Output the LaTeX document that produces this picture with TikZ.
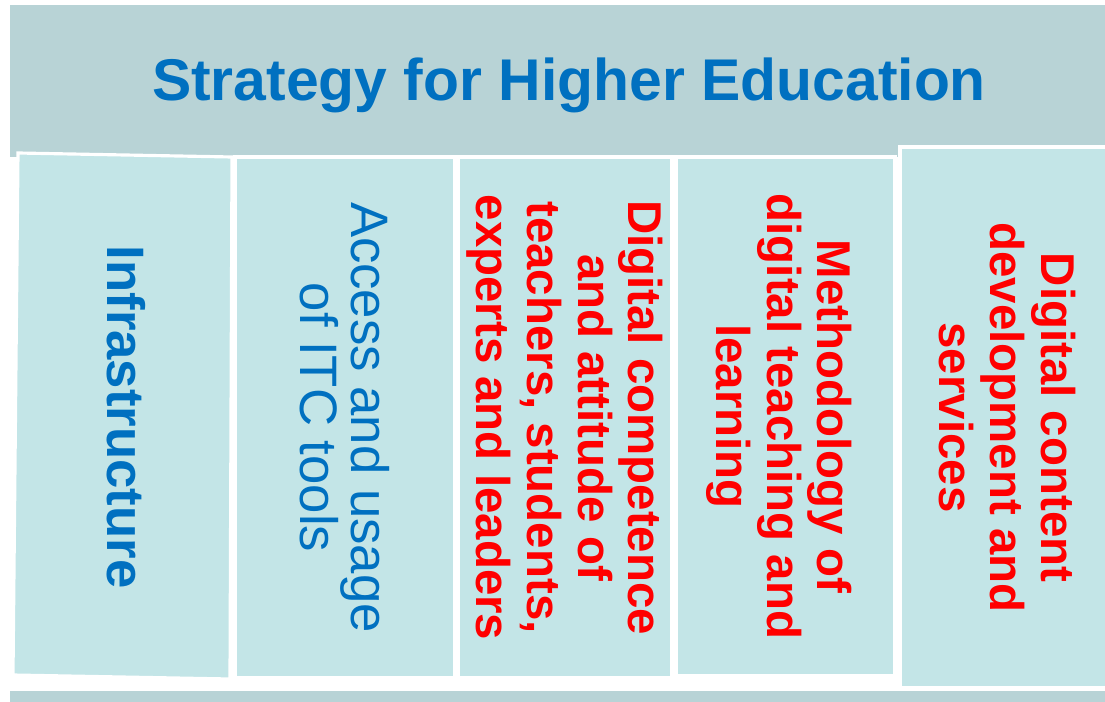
\documentclass[tikz,border=0pt]{standalone}
\usepackage{fontspec}
\setmainfont{Liberation Sans}
\definecolor{bandteal}{HTML}{B8D3D6}
\definecolor{colteal}{HTML}{C3E5E7}
\definecolor{titleblue}{HTML}{0070C0}

\begin{document}
\begin{tikzpicture}[x=0.02cm, y=-0.02cm,
    band node/.style={fill=bandteal, inner sep=0pt},
    col node/.style={draw=white, line width=1.8pt, fill=colteal, inner sep=0pt, minimum height=10.42cm},
    side node/.style={rotate=-90, align=center, inner sep=0pt},
    red node/.style={side node, text=red, font=\fontsize{27}{28.8}\selectfont\bfseries},
    blue node/.style={side node, text=titleblue, font=\fontsize{30}{28.8}\selectfont}]
\useasboundingbox (0,0) rectangle (1105,702);
\node[band node, minimum width=21.9cm, minimum height=3.04cm] (banner) at (557.5,81) {};
\node[band node, minimum width=21.9cm, minimum height=0.24cm] (bottom) at (557.5,697) {};
\node[text=titleblue, font=\fontsize{33.5}{40}\selectfont\bfseries] (title) at (569,85) {Strategy for Higher Education};
% columns
\filldraw[fill=colteal, draw=white, line width=1.8pt] (18,153) -- (232,157) -- (230,679) -- (13,675) -- cycle;
\node[col node, minimum width=4.4cm] (c2) at (345,417.5) {};
\node[col node, minimum width=4.28cm] (c3) at (565,417.5) {};
\node[col node, minimum width=4.38cm, minimum height=10.38cm] (c4) at (785.5,416.5) {};
\node[col node, minimum width=4.3cm, minimum height=10.82cm] (c5) at (1007.5,417.5) {};
% labels
\node[blue node, font=\fontsize{30}{28.8}\selectfont\bfseries] (infra) at (126,417) {Infrastructure};
\node[blue node] (access) at (c2.center) {Access and usage\\of ITC tools};
\node[red node] (competence) at (c3.center) {Digital competence\\and attitude of\\teachers, students,\\experts and leaders};
\node[red node] (method) at ([xshift=-0.12cm]c4.center) {Methodology of\\digital teaching and\\learning};
\node[red node] (content) at (c5.center) {Digital content\\development and\\services};
\end{tikzpicture}
\end{document}
